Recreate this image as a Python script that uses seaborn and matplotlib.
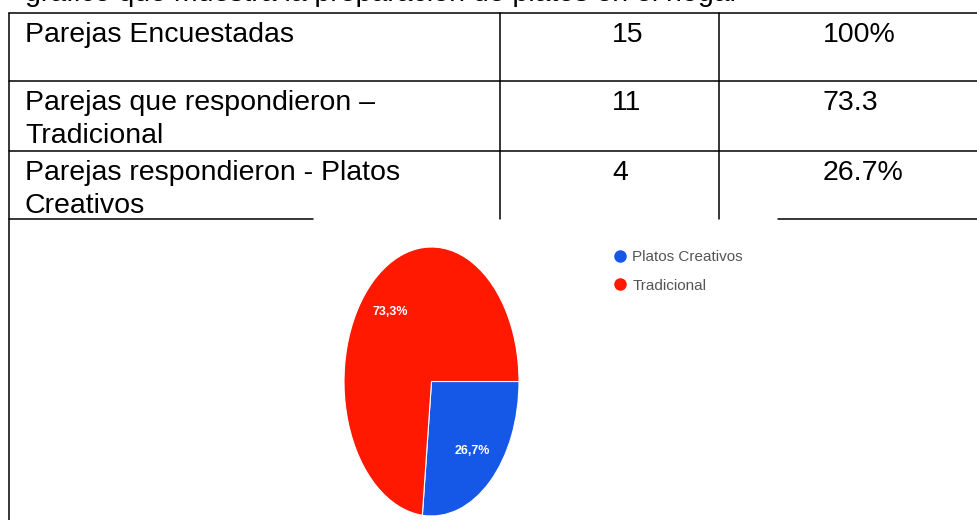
import matplotlib
matplotlib.use("Agg")
import matplotlib.pyplot as plt
from matplotlib.lines import Line2D
import seaborn as sns

# --- Datos ---
texto_superior = "gráfico que muestra la preparación de platos en el hogar"
filas_tabla = ["Parejas Encuestadas",
               "Parejas que respondieron –\nTradicional",
               "Parejas respondieron - Platos\nCreativos"]
cantidades = [15, 11, 4]
porcentajes = ["100%", "73.3", "26.7%"]

pie_labels = ["Platos Creativos", "Tradicional"]
pie_values = [4, 11]
pie_colors = ["#1558e8", "#ff1900"]

# --- Estilo ---
sns.set_theme(style="white")
plt.rcParams['font.family'] = ['Liberation Sans', 'DejaVu Sans']
fuente_estrecha = ['Liberation Sans Narrow', 'Liberation Sans', 'DejaVu Sans']

W, H = 978, 520
fig = plt.figure(figsize=(W / 100, H / 100), dpi=100)

# eje de fondo en pixeles para la tabla
bg = fig.add_axes([0, 0, 1, 1])
bg.set_xlim(0, W)
bg.set_ylim(H, 0)
bg.axis("off")

fs = 20.5
lw = 1.1
# texto cortado arriba (solo se ven los trazos inferiores)
bg.text(25, 1, texto_superior, fontsize=fs, va="baseline", ha="left", color="black")

# lineas de la tabla
bg.plot([9, W], [13, 13], color="black", lw=lw)
bg.plot([9, W], [81, 81], color="black", lw=lw)
bg.plot([9, W], [151, 151], color="black", lw=lw)
bg.plot([9, 313], [219, 219], color="black", lw=lw)
bg.plot([778, W], [219, 219], color="black", lw=lw)
bg.plot([9, 9], [13, H], color="black", lw=lw)
bg.plot([500, 500], [13, 219], color="black", lw=lw)
bg.plot([719, 719], [13, 219], color="black", lw=lw)

fila_base = [42, 110, 180]
salto = 33
for i, (txt, n, p) in enumerate(zip(filas_tabla, cantidades, porcentajes)):
    for j, linea in enumerate(txt.split("\n")):
        bg.text(25, fila_base[i] + j * salto, linea, fontsize=fs,
                va="baseline", ha="left", color="black")
    bg.text(612, fila_base[i], str(n), fontsize=fs, va="baseline", ha="left", color="black")
    bg.text(823, fila_base[i], p, fontsize=fs, va="baseline", ha="left", color="black")

# --- Grafico circular (estirado verticalmente) ---
px_left, px_right, px_top, px_bottom = 344, 519, 247, 516
ax = fig.add_axes([px_left / W, 1 - px_bottom / H,
                   (px_right - px_left) / W, (px_bottom - px_top) / H])
wedges, texts, autotexts = ax.pie(
    pie_values, colors=pie_colors, startangle=0, counterclock=False,
    autopct=lambda v: f"{v:.1f}%".replace(".", ","), pctdistance=0.7,
    wedgeprops=dict(edgecolor="white", linewidth=0.8),
    textprops=dict(color="white", fontsize=9, fontweight="bold", family=fuente_estrecha))
ax.set_aspect("auto")
ax.set_xlim(-1.0, 1.0)
ax.set_ylim(-1.0, 1.0)
ax.axis("off")

handles = [Line2D([], [], marker="o", ls="", markersize=8, color=c) for c in pie_colors]
fig.legend(handles, pie_labels, loc="upper left",
           bbox_to_anchor=(614 / W, 1 - 250 / H), frameon=False,
           borderaxespad=0, borderpad=0,
           handletextpad=0.4, labelspacing=0.95, handlelength=0.8,
           prop=dict(size=11, family=fuente_estrecha),
           labelcolor="#555555")

fig.savefig("out.png", dpi=100)
